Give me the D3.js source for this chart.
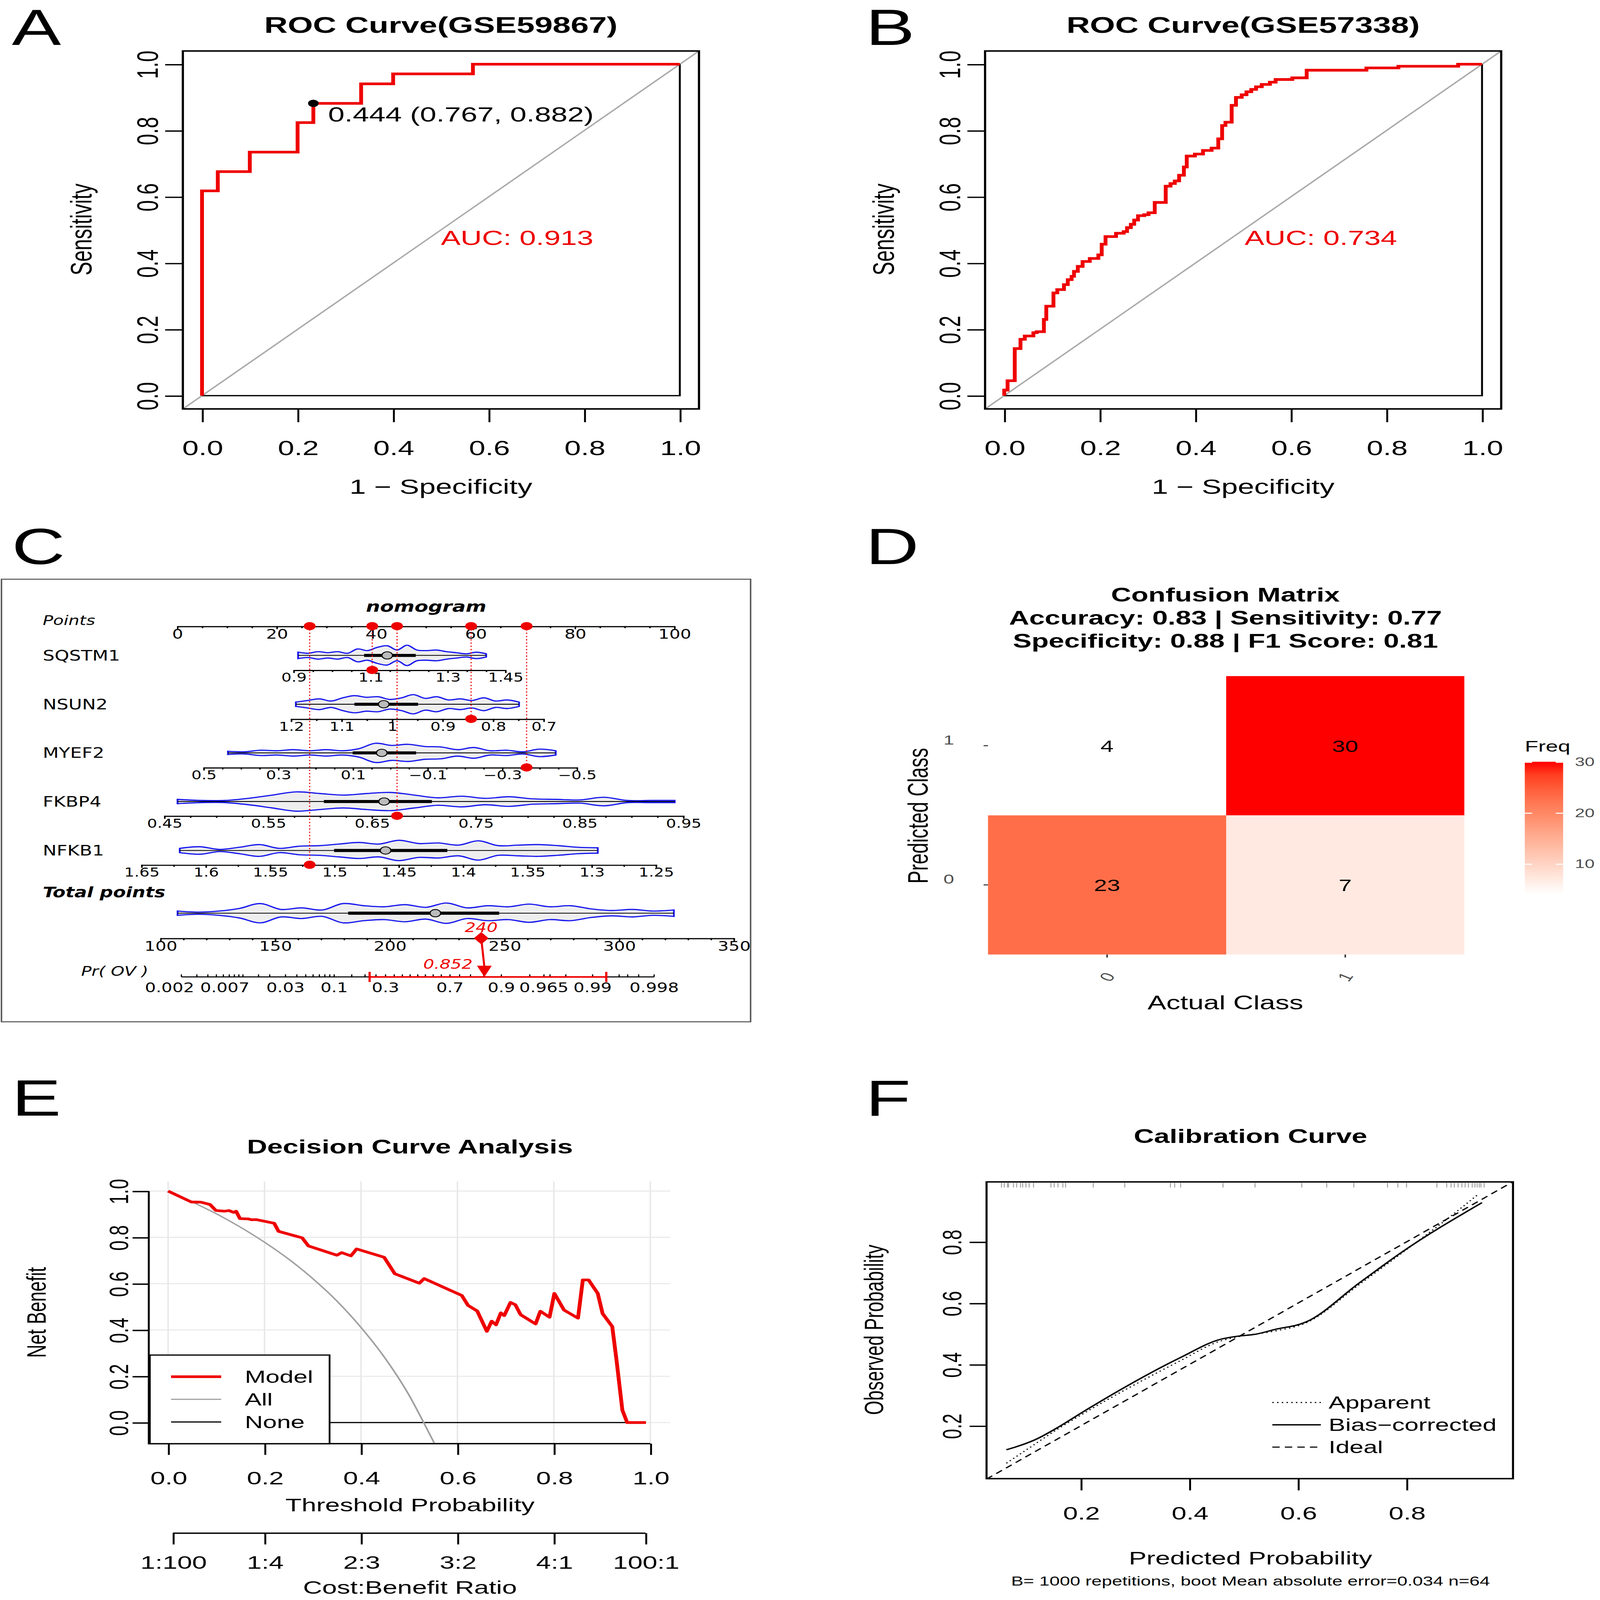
<!DOCTYPE html>
<html>
<head>
<meta charset="utf-8">
<script src="https://cdn.jsdelivr.net/npm/d3@7"></script>
<style>
  html, body { margin: 0; padding: 0; background: #fff; overflow: hidden; }
  #fig { display: block; width: 100vw; height: 100vh; }
  text { font-family: "Liberation Sans", Arial, sans-serif; }
  .narrow text { font-family: "Liberation Sans Narrow", "DejaVu Sans Condensed", "Liberation Sans", Arial, sans-serif; }
</style>
</head>
<body>
<svg id="fig" viewBox="0 0 1085 1569" preserveAspectRatio="none"></svg>
<script>
// ---- data ----
// A: ROC GSE59867
const rocA_fpr = [0, 0, 0.033, 0.1, 0.2, 0.233, 0.333, 0.4, 0.567, 1];
const rocA_tpr = [0, 0.618, 0.676, 0.735, 0.824, 0.882, 0.941, 0.971, 1, 1];
const rocA_best = [0.233, 0.882];
// B: ROC GSE57338
const rocB_fpr = [0, 0, 0.007, 0.007, 0.022, 0.034, 0.043, 0.061, 0.068, 0.083, 0.088, 0.103, 0.111, 0.125, 0.133, 0.141, 0.146, 0.154, 0.164, 0.179, 0.197, 0.204, 0.212, 0.234, 0.25, 0.257, 0.265, 0.272, 0.28, 0.293, 0.302, 0.315, 0.338, 0.348, 0.357, 0.366, 0.376, 0.382, 0.399, 0.416, 0.434, 0.448, 0.456, 0.463, 0.476, 0.485, 0.497, 0.507, 0.517, 0.527, 0.539, 0.556, 0.568, 0.603, 0.633, 0.758, 0.825, 0.95, 1];
const rocB_tpr = [0, 0.017, 0.017, 0.045, 0.142, 0.17, 0.18, 0.19, 0.193, 0.23, 0.27, 0.31, 0.32, 0.335, 0.35, 0.36, 0.375, 0.39, 0.405, 0.414, 0.425, 0.457, 0.48, 0.49, 0.495, 0.507, 0.517, 0.53, 0.543, 0.546, 0.552, 0.583, 0.632, 0.64, 0.648, 0.665, 0.69, 0.723, 0.729, 0.74, 0.747, 0.775, 0.815, 0.825, 0.876, 0.9, 0.908, 0.917, 0.924, 0.932, 0.939, 0.946, 0.954, 0.959, 0.982, 0.989, 0.994, 1, 1];
const rocTicks = [0, 0.2, 0.4, 0.6, 0.8, 1.0];

// C: nomogram
const nomoVars = ["SQSTM1", "NSUN2", "MYEF2", "FKBP4", "NFKB1"];
const nomoAxisEnds = [[0.9, 1.45], [1.2, 0.7], [0.5, -0.5], [0.45, 0.95], [1.65, 1.25]];
const nomoAxisPoints = [[23.4, 66.0], [22.9, 73.7], [5.3, 80.4], [-2.6, 101.8], [-7.2, 96.3]];
const nomoTickLabels = [
  ["0.9", "1.1", "1.3", "1.45"],
  ["1.2", "1.1", "1", "0.9", "0.8", "0.7"],
  ["0.5", "0.3", "0.1", "\u22120.1", "\u22120.3", "\u22120.5"],
  ["0.45", "0.55", "0.65", "0.75", "0.85", "0.95"],
  ["1.65", "1.6", "1.55", "1.5", "1.45", "1.4", "1.35", "1.3", "1.25"]
];
const nomoTickValues = [
  [0.9, 1.1, 1.3, 1.45],
  [1.2, 1.1, 1, 0.9, 0.8, 0.7],
  [0.5, 0.3, 0.1, -0.1, -0.3, -0.5],
  [0.45, 0.55, 0.65, 0.75, 0.85, 0.95],
  [1.65, 1.6, 1.55, 1.5, 1.45, 1.4, 1.35, 1.3, 1.25]
];
const nomoMinorStep = [0.05, 0.05, 0.05, 0.025, 0.025];
const nomoPatient = [1.105, 0.843, -0.366, 0.6745, 1.519];
// violin summaries: [min, q1, median, q3, max]
const nomoBox = [
  [0.9125, 1.084, 1.144, 1.218, 1.401],
  [1.19, 1.074, 1.016, 0.948, 0.748],
  [0.434, 0.10, 0.022, -0.07, -0.444],
  [0.463, 0.604, 0.662, 0.708, 0.942],
  [1.62, 1.50, 1.46, 1.412, 1.295]
];
const nomoDensity = [
  [0.3, 0.2, 0.35, 0.25, 0.35, 0.2, 0.6, 0.45, 0.75, 0.9, 0.5, 0.95, 0.5, 0.45, 0.5, 0.35, 0.25, 0.15, 0.3, 0.15],
  [0.2, 0.35, 0.5, 0.3, 0.6, 0.8, 0.65, 0.7, 0.45, 0.6, 0.9, 0.55, 0.7, 0.4, 0.5, 0.35, 0.6, 0.3, 0.4, 0.2],
  [0.15, 0.1, 0.25, 0.2, 0.3, 0.2, 0.3, 0.2, 0.4, 0.9, 0.7, 0.8, 0.6, 0.55, 0.3, 0.5, 0.2, 0.25, 0.1, 0.35, 0.2],
  [0.2, 0.1, 0.1, 0.3, 0.6, 0.9, 0.75, 0.6, 0.75, 0.85, 0.6, 0.35, 0.5, 0.3, 0.45, 0.25, 0.2, 0.15, 0.4, 0.1, 0.1, 0.1],
  [0.2, 0.35, 0.1, 0.3, 0.55, 0.2, 0.4, 0.45, 0.6, 0.75, 0.6, 0.95, 0.65, 0.7, 0.5, 0.9, 0.45, 0.5, 0.55, 0.45, 0.3, 0.25]
];
const totalBox = [107.6, 182, 220, 247.8, 324];
const totalDensity = [0.2, 0.1, 0.2, 0.45, 0.9, 0.35, 0.5, 0.3, 0.9, 0.7, 0.6, 0.8, 0.55, 0.95, 0.5, 0.7, 0.6, 0.85, 0.6, 0.7, 0.4, 0.25, 0.35, 0.2, 0.3];
const totalTicks = [100, 150, 200, 250, 300, 350];
const probTicks = [0.002, 0.007, 0.03, 0.1, 0.3, 0.7, 0.9, 0.965, 0.99, 0.998];
const probMinor = [0.003, 0.004, 0.005, 0.006, 0.008, 0.009, 0.01, 0.015, 0.02, 0.04, 0.05, 0.06, 0.07, 0.08, 0.09, 0.15, 0.2, 0.25, 0.35, 0.4, 0.45, 0.5, 0.55, 0.6, 0.65, 0.75, 0.8, 0.85, 0.95, 0.97, 0.98, 0.995, 0.996, 0.997];
const patientTotal = 240;
const patientProb = 0.852;
const probCI = [0.22, 0.993];

// D: confusion matrix
const cmActual = ["0", "0", "1", "1"];
const cmPred = ["0", "1", "0", "1"];
const cmFreq = [23, 4, 7, 30];
const cmTitle = ["Confusion Matrix", "Accuracy: 0.83 | Sensitivity: 0.77", "Specificity: 0.88 | F1 Score: 0.81"];
const cmLegendTicks = [10, 20, 30];

// E: decision curve
const dcaModelT = [0, 0.048, 0.068, 0.087, 0.099, 0.117, 0.126, 0.136, 0.141, 0.149, 0.166, 0.173, 0.182, 0.220, 0.229, 0.278, 0.291, 0.350, 0.360, 0.379, 0.391, 0.448, 0.470, 0.521, 0.531, 0.609, 0.622, 0.641, 0.661, 0.671, 0.680, 0.690, 0.697, 0.710, 0.720, 0.731, 0.762, 0.772, 0.791, 0.801, 0.821, 0.850, 0.860, 0.872, 0.891, 0.901, 0.921, 0.930, 0.942, 0.952, 0.991];
const dcaModelNB = [1.0, 0.953, 0.952, 0.942, 0.916, 0.913, 0.916, 0.908, 0.913, 0.881, 0.880, 0.876, 0.877, 0.861, 0.826, 0.798, 0.763, 0.723, 0.734, 0.720, 0.750, 0.714, 0.643, 0.602, 0.622, 0.549, 0.506, 0.482, 0.394, 0.438, 0.422, 0.474, 0.462, 0.519, 0.509, 0.466, 0.426, 0.481, 0.455, 0.558, 0.486, 0.451, 0.616, 0.616, 0.558, 0.471, 0.415, 0.268, 0.054, 0, 0];
const dcaAllT = [0, 0.05, 0.1, 0.15, 0.2, 0.25, 0.3, 0.35, 0.4, 0.45, 0.5, 0.53, 0.553];
const dcaAllNB = [1, 0.953, 0.902, 0.844, 0.779, 0.706, 0.622, 0.525, 0.411, 0.278, 0.117, 0.0, -0.093];
const dcaNone = [[0, 0], [0.99, 0]];
const costTicks = [0.0099, 0.2, 0.4, 0.6, 0.8, 0.99];
const costLabels = ["1:100", "1:4", "2:3", "3:2", "4:1", "100:1"];

// F: calibration
const calBiasX = [0.063, 0.080, 0.115, 0.158, 0.200, 0.384, 0.457, 0.488, 0.523, 0.557, 0.614, 0.713, 0.791, 0.939];
const calBiasY = [0.122, 0.131, 0.154, 0.195, 0.241, 0.423, 0.482, 0.492, 0.499, 0.514, 0.538, 0.666, 0.766, 0.928];
const calAppX = [0.063, 0.106, 0.158, 0.200, 0.384, 0.453, 0.488, 0.557, 0.614, 0.713, 0.791, 0.878, 0.932];
const calAppY = [0.078, 0.129, 0.190, 0.235, 0.413, 0.474, 0.490, 0.509, 0.535, 0.661, 0.763, 0.879, 0.955];
const calRug = [0.054, 0.059, 0.065, 0.067, 0.076, 0.082, 0.089, 0.093, 0.099, 0.105, 0.113, 0.145, 0.151, 0.158, 0.167, 0.172, 0.223, 0.281, 0.365, 0.373, 0.384, 0.462, 0.521, 0.607, 0.653, 0.703, 0.765, 0.784, 0.800, 0.856, 0.874, 0.882, 0.888, 0.895, 0.902, 0.908, 0.914, 0.921, 0.926, 0.930, 0.934, 0.937, 0.943];
const calTicks = [0.2, 0.4, 0.6, 0.8];

const svg = d3.select("#fig");
const RED = "#ee0000";

// rotated left-axis labels like base R
function rLeftAxis(g, scale, ticks, x, tickLen, gap, size, fmt) {
  const ax = g.append("g").attr("transform", `translate(${x},0)`)
    .call(d3.axisLeft(scale).tickValues(ticks).tickSize(tickLen).tickSizeOuter(0).tickFormat(fmt));
  ax.select(".domain").attr("stroke-width", 1.3);
  ax.selectAll(".tick line").attr("stroke-width", 1.3);
  ax.selectAll("text").attr("transform", "rotate(-90)").attr("x", 0).attr("y", -gap)
    .attr("dy", 0).attr("text-anchor", "middle").attr("font-size", size)
    .style("font-family", "Liberation Sans, Arial, sans-serif").attr("fill", "#000");
  return ax;
}
function rBottomAxis(g, scale, ticks, y, tickLen, pad, size, fmt) {
  const ax = g.append("g").attr("transform", `translate(0,${y})`)
    .call(d3.axisBottom(scale).tickValues(ticks).tickSize(tickLen).tickSizeOuter(0).tickPadding(pad).tickFormat(fmt));
  ax.select(".domain").attr("stroke-width", 1.3);
  ax.selectAll(".tick line").attr("stroke-width", 1.3);
  ax.selectAll("text").attr("font-size", size)
    .style("font-family", "Liberation Sans, Arial, sans-serif").attr("fill", "#000");
  return ax;
}
function letter(t, x, y) {
  svg.append("text").attr("x", x).attr("y", y).attr("font-size", 50).text(t);
}

// ---------- A & B ----------
function rocPanel(x0, title, fpr, tpr, auc, best, bestLabel, aucX) {
  const g = svg.append("g");
  const x = d3.scaleLinear([0, 1], [x0, x0 + 324]);
  const y = d3.scaleLinear([0, 1], [388, 63]);
  const fx = x.range()[0] - 13, fx2 = x.range()[1] + 13;
  g.append("text").attr("x", (fx + fx2) / 2).attr("y", 32).attr("text-anchor", "middle")
    .attr("font-size", 22).attr("font-weight", "bold").text(title);
  g.append("line").attr("x1", x(-0.04)).attr("y1", y(-0.04)).attr("x2", x(1.04)).attr("y2", y(1.04))
    .attr("stroke", "#aaaaaa").attr("stroke-width", 1.2);
  g.append("path").attr("d", `M${x(0)},${y(0)}H${x(1)}V${y(1)}`).attr("fill", "none").attr("stroke", "#000").attr("stroke-width", 1.3);
  const pts = fpr.map((f, i) => [f, tpr[i]]);
  g.append("path").datum(pts).attr("fill", "none").attr("stroke", RED).attr("stroke-width", 2.6)
    .attr("d", d3.line().x(d => x(d[0])).y(d => y(d[1])).curve(d3.curveStepAfter));
  g.append("rect").attr("x", fx).attr("y", 50).attr("width", fx2 - fx).attr("height", 351)
    .attr("fill", "none").attr("stroke", "#000").attr("stroke-width", 1.5);
  rLeftAxis(g, y, rocTicks, fx, 12, 17, 20, d3.format(".1f")).select(".domain").remove();
  rBottomAxis(g, x, rocTicks, 401, 13, 18, 20, d3.format(".1f")).select(".domain").remove();
  g.append("text").attr("transform", `translate(${fx - 69},225) rotate(-90)`).attr("y", 7)
    .attr("text-anchor", "middle").attr("font-size", 20).text("Sensitivity");
  g.append("text").attr("x", (fx + fx2) / 2).attr("y", 484).attr("text-anchor", "middle")
    .attr("font-size", 20).text("1 \u2212 Specificity");
  g.append("text").attr("x", aucX).attr("y", 240).attr("fill", RED).attr("font-size", 20).text("AUC: " + auc);
  if (best) {
    g.append("circle").attr("cx", x(best[0])).attr("cy", y(best[1])).attr("r", 3.6).attr("fill", "#000");
    g.append("text").attr("x", x(best[0]) + 10).attr("y", 119).attr("font-size", 20).text(bestLabel);
  }
}
rocPanel(137, "ROC Curve(GSE59867)", rocA_fpr, rocA_tpr, "0.913", rocA_best, "0.444 (0.767, 0.882)", 299);
rocPanel(681, "ROC Curve(GSE57338)", rocB_fpr, rocB_tpr, "0.734", null, null, 844);
letter("A", 8, 44);
letter("B", 587, 44);

// ---------- C nomogram ----------
(function () {
  const g = svg.append("g").attr("class", "narrow");
  g.append("rect").attr("x", 1).attr("y", 568).attr("width", 508).attr("height", 434)
    .attr("fill", "none").attr("stroke", "#555").attr("stroke-width", 1);
  const px = d3.scaleLinear([0, 100], [120, 457.1]);
  const rowY = [642.7, 690.6, 738.3, 786, 834];
  const axY = [657, 705, 752.6, 800, 848];

  g.append("text").attr("x", 289).attr("y", 600).attr("text-anchor", "middle").attr("font-size", 15)
    .attr("font-weight", "bold").attr("font-style", "italic").text("nomogram");
  g.append("text").attr("x", 29).attr("y", 613).attr("font-size", 13).attr("font-style", "italic").text("Points");

  function nAxis(scale, major, minor, y, labels, size) {
    const a = g.append("g").attr("transform", `translate(0,${y})`);
    a.append("g").call(d3.axisBottom(scale).tickValues(minor).tickSize(2).tickSizeOuter(0).tickFormat(""))
      .call(s => s.select(".domain").attr("stroke-width", 1.1));
    a.append("g").call(d3.axisBottom(scale).tickValues(major).tickSize(3).tickSizeOuter(0).tickPadding(0)
      .tickFormat((d, i) => labels ? labels[i] : d))
      .call(s => s.select(".domain").remove())
      .call(s => s.selectAll("text").attr("font-size", size).attr("fill", "#000")
        .style("font-family", "Liberation Sans Narrow, DejaVu Sans Condensed, Liberation Sans, Arial"));
    return a;
  }
  nAxis(px, d3.range(0, 101, 20), d3.range(0, 101, 5), 614, null, 13);

  function violin(scale, box, dens, cy) {
    const lo = box[0], hi = box[4];
    const n = dens.length;
    const vs = dens.map((d, i) => lo + (hi - lo) * i / (n - 1));
    const h = 10.5;
    const top = vs.map((v, i) => [scale(v), cy - dens[i] * h]);
    const bot = vs.map((v, i) => [scale(v), cy + dens[i] * h]).reverse();
    const ln = d3.line().curve(d3.curveCatmullRom);
    g.append("path").attr("d", ln(top) + "L" + ln(bot).slice(1) + "Z")
      .attr("fill", "#eeeeee").attr("stroke", "#1a1aee").attr("stroke-width", 1.2);
    g.append("line").attr("x1", scale(lo)).attr("x2", scale(hi)).attr("y1", cy).attr("y2", cy)
      .attr("stroke", "#000").attr("stroke-width", 0.8);
    g.append("line").attr("x1", scale(box[1])).attr("x2", scale(box[3])).attr("y1", cy).attr("y2", cy)
      .attr("stroke", "#000").attr("stroke-width", 3);
    g.append("circle").attr("cx", scale(box[2])).attr("cy", cy).attr("r", 3.6)
      .attr("fill", "#bbbbbb").attr("stroke", "#000").attr("stroke-width", 0.8);
  }

  nomoVars.forEach((name, i) => {
    const e = nomoAxisEnds[i], p = nomoAxisPoints[i];
    const vScale = d3.scaleLinear(e, [px(p[0]), px(p[1])]);
    const step = nomoMinorStep[i];
    const lo = Math.min(e[0], e[1]), hi = Math.max(e[0], e[1]);
    const minors = d3.range(Math.round((hi - lo) / step) + 1).map(k => lo + k * step);
    g.append("text").attr("x", 29).attr("y", rowY[i] + 5).attr("font-size", 14).text(name);
    violin(vScale, nomoBox[i], nomoDensity[i], rowY[i]);
    nAxis(vScale, nomoTickValues[i], minors, axY[i], nomoTickLabels[i], 12);
    const v = nomoPatient[i];
    g.append("line").attr("x1", vScale(v)).attr("x2", vScale(v)).attr("y1", 614).attr("y2", axY[i])
      .attr("stroke", RED).attr("stroke-width", 0.8).attr("stroke-dasharray", "1.2,2");
    g.append("circle").attr("cx", vScale(v)).attr("cy", axY[i]).attr("r", 4).attr("fill", RED);
    g.append("circle").attr("cx", vScale(v)).attr("cy", 614).attr("r", 4).attr("fill", RED);
  });

  // total points
  const tScale = d3.scaleLinear([100, 350], [108.6, 497.4]);
  g.append("text").attr("x", 29).attr("y", 880).attr("font-size", 14).attr("font-weight", "bold")
    .attr("font-style", "italic").text("Total points");
  violin(tScale, totalBox, totalDensity, 895.5);
  nAxis(tScale, totalTicks, d3.range(100, 351, 10), 920, null, 13);

  // probability axis on the logit scale
  const logit = p => Math.log(p / (1 - p));
  const lScale = d3.scaleLinear([0, 1], [283.3, 309.1]);
  const pScale = p => lScale(logit(p));
  const pa = g.append("g").attr("transform", "translate(0,958)");
  pa.append("line").attr("x1", pScale(0.002)).attr("x2", pScale(0.998)).attr("stroke", "#000").attr("stroke-width", 1.1);
  pa.selectAll("line.mn").data(probMinor.concat(probTicks)).join("line").attr("class", "mn")
    .attr("x1", d => pScale(d)).attr("x2", d => pScale(d)).attr("y1", 0).attr("y2", -2.5)
    .attr("stroke", "#000").attr("stroke-width", 0.8);
  pa.selectAll("text").data(probTicks).join("text").attr("x", (d, i) => pScale(d) - (i === 0 ? 8 : i === 1 ? 3 : 0))
    .attr("y", 15).attr("text-anchor", "middle").attr("font-size", 13).text(d => d);
  g.append("text").attr("x", 55).attr("y", 957).attr("font-size", 13).attr("font-style", "italic").text("Pr( OV )");
  // patient result
  const tx = tScale(patientTotal), pxp = pScale(patientProb);
  pa.append("line").attr("x1", pScale(probCI[0])).attr("x2", pScale(probCI[1])).attr("stroke", RED).attr("stroke-width", 1.5);
  [probCI[0], probCI[1]].forEach(c => pa.append("line").attr("x1", pScale(c)).attr("x2", pScale(c))
    .attr("y1", -5).attr("y2", 5).attr("stroke", RED).attr("stroke-width", 1.5));
  g.append("line").attr("x1", tx).attr("x2", pxp).attr("y1", 920).attr("y2", 948).attr("stroke", RED).attr("stroke-width", 1.4);
  g.append("path").attr("d", `M${pxp - 5},947L${pxp + 5},947L${pxp},958Z`).attr("fill", RED);
  g.append("path").attr("d", `M${tx},914L${tx + 5},920L${tx},926L${tx - 5},920Z`).attr("fill", RED);
  g.append("text").attr("x", tx).attr("y", 914).attr("text-anchor", "middle").attr("fill", RED)
    .attr("font-size", 13).attr("font-style", "italic").text(patientTotal);
  g.append("text").attr("x", pxp - 8).attr("y", 950).attr("text-anchor", "end").attr("fill", RED)
    .attr("font-size", 13).attr("font-style", "italic").text(patientProb);
})();
letter("C", 8, 553);
letter("D", 587, 553);

// ---------- D confusion matrix ----------
(function () {
  const g = svg.append("g");
  const x = d3.scaleBand(["0", "1"], [670, 993]);
  const y = d3.scaleBand(["0", "1"], [936, 663]);
  const lo = d3.min(cmFreq), hi = d3.max(cmFreq);
  const col = d3.scaleLinear([lo, hi], ["#ffffff", "#ff0000"]).interpolate(d3.interpolateLab);
  cmTitle.forEach((t, i) => g.append("text").attr("x", 831).attr("y", 590 + i * 22.5).attr("text-anchor", "middle")
    .attr("font-size", 19).attr("font-weight", "bold").text(t));
  cmFreq.forEach((f, i) => {
    g.append("rect").attr("x", x(cmActual[i])).attr("y", y(cmPred[i])).attr("width", x.bandwidth())
      .attr("height", y.bandwidth()).attr("fill", col(f));
    g.append("text").attr("x", x(cmActual[i]) + x.bandwidth() / 2).attr("y", y(cmPred[i]) + y.bandwidth() / 2 + 6)
      .attr("text-anchor", "middle").attr("font-size", 16).text(f);
  });
  const ya = g.append("g").attr("transform", "translate(670,0)")
    .call(d3.axisLeft(y).tickSize(3).tickPadding(20));
  ya.select(".domain").remove();
  ya.selectAll(".tick line").attr("stroke", "#333");
  ya.selectAll("text").attr("font-size", 13).attr("fill", "#4d4d4d").attr("dy", "-0.1em");
  const xa = g.append("g").attr("transform", "translate(0,936)")
    .call(d3.axisBottom(x).tickSize(3).tickPadding(2));
  xa.select(".domain").remove();
  xa.selectAll(".tick line").attr("stroke", "#333");
  xa.selectAll("text").attr("font-size", 13).attr("fill", "#4d4d4d")
    .attr("transform", "translate(0,22) rotate(-60)").attr("dy", "0.35em").attr("y", 0).attr("text-anchor", "middle");
  g.append("text").attr("x", 831).attr("y", 990).attr("text-anchor", "middle").attr("font-size", 19).text("Actual Class");
  g.append("text").attr("transform", "translate(629,800) rotate(-90)").attr("text-anchor", "middle")
    .attr("font-size", 19).text("Predicted Class");
  // legend
  const grad = svg.append("defs").append("linearGradient").attr("id", "fg").attr("x1", 0).attr("x2", 0).attr("y1", 1).attr("y2", 0);
  d3.range(0, 1.01, 0.1).forEach(t => grad.append("stop").attr("offset", t).attr("stop-color", col(lo + t * (hi - lo))));
  const ls = d3.scaleLinear([lo, hi], [877, 747]);
  g.append("text").attr("x", 1034).attr("y", 737).attr("font-size", 15).text("Freq");
  g.append("rect").attr("x", 1034).attr("y", ls(hi)).attr("width", 26).attr("height", ls(lo) - ls(hi)).attr("fill", "url(#fg)");
  const la = g.append("g").attr("transform", "translate(1060,0)")
    .call(d3.axisRight(ls).tickValues(cmLegendTicks).tickSize(0).tickPadding(8));
  la.select(".domain").remove();
  la.selectAll("text").attr("font-size", 12).attr("fill", "#4d4d4d");
  la.selectAll(".tick").append("line").attr("x1", -26).attr("x2", -21).attr("stroke", "#fff");
  la.selectAll(".tick").append("line").attr("x1", -5).attr("x2", 0).attr("stroke", "#fff");
})();

// ---------- E decision curve ----------
(function () {
  const g = svg.append("g");
  const x = d3.scaleLinear([0, 1], [114, 441]);
  const y = d3.scaleLinear([0, 1], [1395, 1168]);
  g.append("text").attr("x", 278).attr("y", 1131).attr("text-anchor", "middle").attr("font-size", 19)
    .attr("font-weight", "bold").text("Decision Curve Analysis");
  g.selectAll("line.gx").data(rocTicks).join("line").attr("class", "gx").attr("x1", d => x(d)).attr("x2", d => x(d))
    .attr("y1", 1158.6).attr("y2", 1415.7).attr("stroke", "#e8e8e8").attr("stroke-width", 1);
  g.selectAll("line.gy").data(rocTicks).join("line").attr("class", "gy").attr("y1", d => y(d)).attr("y2", d => y(d))
    .attr("x1", 89.6).attr("x2", 454.5).attr("stroke", "#e8e8e8").attr("stroke-width", 1);
  const ln = d3.line().x(d => x(d[0])).y(d => y(d[1]));
  g.append("path").datum(dcaNone).attr("d", ln).attr("stroke", "#000").attr("stroke-width", 1.2).attr("fill", "none");
  g.append("path").datum(dcaAllT.map((t, i) => [t, dcaAllNB[i]])).attr("d", d3.line().x(d => x(d[0])).y(d => y(d[1])).curve(d3.curveMonotoneX))
    .attr("stroke", "#a0a0a0").attr("stroke-width", 1.2).attr("fill", "none");
  g.append("path").datum(dcaModelT.map((t, i) => [t, dcaModelNB[i]])).attr("d", ln)
    .attr("stroke", RED).attr("stroke-width", 2.6).attr("fill", "none").attr("stroke-linejoin", "round");
  // axes
  rLeftAxis(g, y, rocTicks, 100.9, 11, 14, 18, d3.format(".1f")).select(".domain").remove();
  g.append("path").attr("d", `M100.9,${y(1)}V1415.7H${x(1)}`).attr("fill", "none").attr("stroke", "#000").attr("stroke-width", 1.3);
  rBottomAxis(g, x, rocTicks, 1415.7, 11, 16, 18, d3.format(".1f")).select(".domain").remove();
  g.append("text").attr("x", 278).attr("y", 1482).attr("text-anchor", "middle").attr("font-size", 18).text("Threshold Probability");
  g.append("text").attr("transform", "translate(31,1287) rotate(-90)").attr("text-anchor", "middle").attr("font-size", 18).text("Net Benefit");
  // legend
  const lg = g.append("g");
  lg.append("rect").attr("x", 101.6).attr("y", 1328.8).attr("width", 121.9).attr("height", 86.9)
    .attr("fill", "#fff").attr("stroke", "#000").attr("stroke-width", 1.2);
  [["Model", RED, 2.6], ["All", "#a0a0a0", 1.2], ["None", "#000", 1.2]].forEach((e, i) => {
    const yy = 1350 + i * 22.2;
    lg.append("line").attr("x1", 116).attr("x2", 150).attr("y1", yy).attr("y2", yy).attr("stroke", e[1]).attr("stroke-width", e[2]);
    lg.append("text").attr("x", 166).attr("y", yy + 6).attr("font-size", 17).text(e[0]);
  });
  // cost:benefit axis
  rBottomAxis(g, x, costTicks, 1503.5, 11, 11, 18, (d, i) => costLabels[i]).select(".domain").remove();
  g.append("line").attr("x1", x(costTicks[0])).attr("x2", x(costTicks[5])).attr("y1", 1503.5).attr("y2", 1503.5)
    .attr("stroke", "#000").attr("stroke-width", 1.3);
  g.append("text").attr("x", 278).attr("y", 1563).attr("text-anchor", "middle").attr("font-size", 18).text("Cost:Benefit Ratio");
})();
letter("E", 8, 1094);
letter("F", 587, 1094);

// ---------- F calibration ----------
(function () {
  const g = svg.append("g");
  const x = d3.scaleLinear([0.2, 0.8], [732.9, 953.8]);
  const y = d3.scaleLinear([0.2, 0.8], [1398.2, 1217.8]);
  const L = 669, R = 1026, T = 1159, B = 1450;
  g.append("text").attr("x", 848).attr("y", 1121).attr("text-anchor", "middle").attr("font-size", 19)
    .attr("font-weight", "bold").text("Calibration Curve");
  g.append("defs").append("clipPath").attr("id", "fclip").append("rect").attr("x", L).attr("y", T).attr("width", R - L).attr("height", B - T);
  const c = g.append("g").attr("clip-path", "url(#fclip)");
  c.selectAll("line.rug").data(calRug).join("line").attr("class", "rug").attr("x1", d => x(d)).attr("x2", d => x(d))
    .attr("y1", T + 1).attr("y2", T + 5.5).attr("stroke", "#999").attr("stroke-width", 0.6);
  const lo = x.invert(L), hi = x.invert(R);
  c.append("line").attr("x1", L).attr("y1", y(lo)).attr("x2", R).attr("y2", y(hi))
    .attr("stroke", "#000").attr("stroke-width", 1.1).attr("stroke-dasharray", "5,3.5");
  const ln = d3.line().x(d => x(d[0])).y(d => y(d[1])).curve(d3.curveMonotoneX);
  c.append("path").datum(calAppX.map((v, i) => [v, calAppY[i]])).attr("d", ln).attr("fill", "none")
    .attr("stroke", "#000").attr("stroke-width", 1).attr("stroke-dasharray", "1,2.2");
  c.append("path").datum(calBiasX.map((v, i) => [v, calBiasY[i]])).attr("d", ln).attr("fill", "none")
    .attr("stroke", "#000").attr("stroke-width", 1.3);
  g.append("rect").attr("x", L).attr("y", T).attr("width", R - L).attr("height", B - T)
    .attr("fill", "none").attr("stroke", "#000").attr("stroke-width", 1.4);
  rLeftAxis(g, y, calTicks, L, 11.5, 17, 18, d3.format(".1f")).select(".domain").remove();
  rBottomAxis(g, x, calTicks, B, 11.5, 16, 18, d3.format(".1f")).select(".domain").remove();
  g.append("text").attr("x", 848).attr("y", 1534).attr("text-anchor", "middle").attr("font-size", 18).text("Predicted Probability");
  g.append("text").attr("transform", "translate(599,1304) rotate(-90)").attr("text-anchor", "middle").attr("font-size", 18).text("Observed Probability");
  g.append("text").attr("x", 848).attr("y", 1555).attr("text-anchor", "middle").attr("font-size", 12.5)
    .text("B= 1000 repetitions, boot Mean absolute error=0.034 n=64");
  [["Apparent", "1,2.2", 1], ["Bias\u2212corrected", null, 1.3], ["Ideal", "5,3.5", 1.1]].forEach((e, i) => {
    const yy = 1375.3 + i * 21.9;
    const l = g.append("line").attr("x1", 862.8).attr("x2", 895.7).attr("y1", yy).attr("y2", yy)
      .attr("stroke", "#000").attr("stroke-width", e[2]);
    if (e[1]) l.attr("stroke-dasharray", e[1]);
    g.append("text").attr("x", 901).attr("y", yy + 6).attr("font-size", 17).text(e[0]);
  });
})();
</script>
</body>
</html>
